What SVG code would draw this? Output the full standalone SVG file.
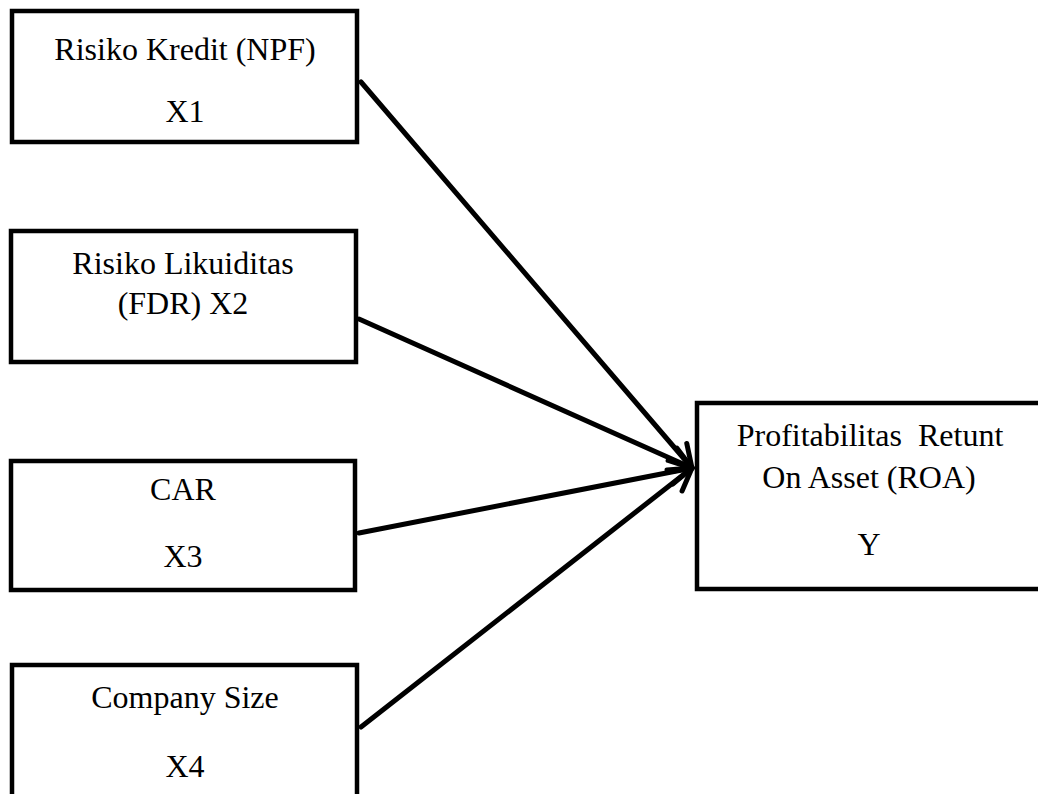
<svg xmlns="http://www.w3.org/2000/svg" width="1038" height="794" viewBox="0 0 1038 794">
<style>
.box{fill:#fff;stroke:#000;stroke-width:4.5}
.t{font-family:"Liberation Serif","Times New Roman",serif;font-size:32px;fill:#000;text-anchor:middle;white-space:pre}
.c{stroke:#000;stroke-width:5;fill:none;stroke-linecap:round}
</style>
<defs>
<marker id="arr" markerUnits="userSpaceOnUse" markerWidth="40" markerHeight="40" refX="30" refY="20" orient="auto" viewBox="0 0 40 40">
<path d="M8,8 L30,20 L8,32" fill="none" stroke="#000" stroke-width="5" stroke-linecap="round" stroke-linejoin="round"/>
</marker>
</defs>
<rect x="0" y="0" width="1038" height="794" fill="#fff"/>
<g id="connectors">
<line class="c" x1="361" y1="82" x2="692" y2="468" marker-end="url(#arr)"/>
<line class="c" x1="359" y1="319" x2="692" y2="468" marker-end="url(#arr)"/>
<line class="c" x1="359" y1="533" x2="692" y2="468" marker-end="url(#arr)"/>
<line class="c" x1="361" y1="727" x2="692" y2="468" marker-end="url(#arr)"/>
</g>
<g id="x1">
<rect class="box" x="12" y="11" width="345" height="131"/>
<text class="t" x="185" y="60">Risiko Kredit (NPF)</text>
<text class="t" x="185" y="122">X1</text>
</g>
<g id="x2">
<rect class="box" x="11" y="231" width="345" height="131"/>
<text class="t" x="183" y="274">Risiko Likuiditas</text>
<text class="t" x="183" y="314">(FDR) X2</text>
</g>
<g id="x3">
<rect class="box" x="11" y="461" width="344" height="129"/>
<text class="t" x="183" y="500">CAR</text>
<text class="t" x="183" y="567">X3</text>
</g>
<g id="x4">
<rect class="box" x="12" y="665" width="345" height="140"/>
<text class="t" x="185" y="708">Company Size</text>
<text class="t" x="185" y="777">X4</text>
</g>
<g id="y">
<rect class="box" x="697" y="403" width="345" height="186"/>
<text class="t" x="870" y="446">Profitabilitas  Retunt</text>
<text class="t" x="869" y="488">On Asset (ROA)</text>
<text class="t" x="869" y="555">Y</text>
</g>
</svg>
